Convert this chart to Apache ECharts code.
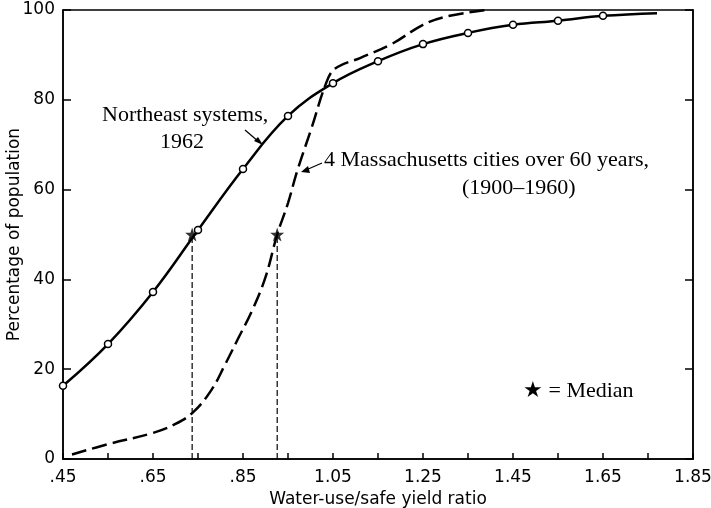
<!DOCTYPE html>
<html>
<head>
<meta charset="utf-8">
<script src="https://cdn.jsdelivr.net/npm/echarts@6/dist/echarts.min.js"></script>
<style>html,body{margin:0;padding:0;background:#fff;}#c{width:711px;height:508px;}</style>
</head>
<body>
<div id="c"></div>
<script>
// Northeast systems, 1962 (solid with circles); last point is the line end without marker
var neX = [0.45, 0.55, 0.65, 0.75, 0.85, 0.95, 1.05, 1.15, 1.25, 1.35, 1.45, 1.55, 1.65, 1.77];
var neY = [16.3, 25.6, 37.2, 51.0, 64.6, 76.4, 83.7, 88.6, 92.4, 94.9, 96.7, 97.6, 98.7, 99.3];
// 4 Massachusetts cities over 60 years (dashed)
var maX = [0.47, 0.55, 0.65, 0.70, 0.74, 0.78, 0.81, 0.84, 0.87, 0.90, 0.926, 0.95, 0.97, 1.00, 1.04, 1.06, 1.11, 1.18, 1.25, 1.30, 1.39];
var maY = [1.0, 3.3, 5.8, 7.8, 10.5, 15.4, 21.0, 27.0, 33.0, 40.5, 50.0, 57.0, 64.0, 73.0, 85.0, 87.3, 89.3, 92.4, 96.7, 98.5, 100];
// Medians
var medianX = [0.737, 0.926];
var medianY = [50, 50];
var xTickLabels = ['.45', '.65', '.85', '1.05', '1.25', '1.45', '1.65', '1.85'];
var yTickLabels = ['0', '20', '40', '60', '80', '100'];

var STAR = 'path://M50,0 L61.8,35.1 L98.1,35.1 L68.8,56.9 L79.4,91.9 L50,70.5 L20.6,91.9 L31.2,56.9 L1.9,35.1 L38.2,35.1 Z';

var neData = neX.map(function (x, i) {
  var d = { value: [x, neY[i]] };
  if (i === neX.length - 1) d.symbol = 'none';
  return d;
});
var maData = maX.map(function (x, i) { return [x, maY[i]]; });

var series = [
  {
    type: 'line', data: neData, smooth: 0.4,
    symbol: 'circle', symbolSize: 7, showAllSymbol: true,
    lineStyle: { color: '#000', width: 2.5 },
    itemStyle: { color: '#fff', borderColor: '#000', borderWidth: 1.5 },
    z: 3, animation: false
  },
  {
    type: 'line', data: maData, smooth: 0.4,
    symbol: 'none',
    lineStyle: { color: '#000', width: 2.5, type: [15, 6] },
    z: 2, animation: false
  }
];
medianX.forEach(function (x, i) {
  series.push({
    type: 'line', data: [[x, 0], [x, medianY[i]]], symbol: 'none',
    lineStyle: { color: '#000', width: 1.2, type: [6, 3] }, z: 1, animation: false
  });
});
series.push({
  type: 'scatter', data: medianX.map(function (x, i) { return [x, medianY[i]]; }),
  symbol: STAR, symbolSize: 14, itemStyle: { color: '#000' }, z: 5, animation: false
});

var chart = echarts.init(document.getElementById('c'), null, { renderer: 'canvas' });
var sans = 'DejaVu Sans, Liberation Sans, sans-serif';
var serif = 'Liberation Serif, Times New Roman, serif';
chart.setOption({
  backgroundColor: '#fff',
  animation: false,
  grid: {
    left: 63, right: 18, top: 10, bottom: 49, containLabel: false, outerBoundsMode: 'none',
    show: true, borderColor: '#000', borderWidth: 1.5, backgroundColor: 'transparent'
  },
  xAxis: {
    type: 'value', min: 0.45, max: 1.85, interval: 0.1,
    name: 'Water-use/safe yield ratio', nameLocation: 'middle', nameGap: 32, nameMoveOverlap: false,
    nameTextStyle: { fontFamily: sans, fontSize: 17, color: '#000' },
    axisLine: { lineStyle: { color: '#000', width: 1.5 } },
    axisTick: { inside: true, length: 6, lineStyle: { color: '#000', width: 1.5 } },
    splitLine: { show: false },
    axisLabel: {
      fontFamily: sans, fontSize: 17, color: '#000', margin: 10,
      formatter: function (v) {
        var k = Math.round((v - 0.45) * 10);
        if (k % 2 !== 0) return '';
        return xTickLabels[k / 2] || '';
      }
    }
  },
  yAxis: [
    {
      type: 'value', min: 0, max: 100, interval: 20, position: 'left',
      name: 'Percentage of population', nameLocation: 'middle', nameGap: 40, nameMoveOverlap: false,
      nameTextStyle: { fontFamily: sans, fontSize: 17, color: '#000' },
      axisLine: { show: true, lineStyle: { color: '#000', width: 1.5 } },
      axisTick: { show: true, inside: true, length: 8, lineStyle: { color: '#000', width: 1.5 } },
      splitLine: { show: false },
      axisLabel: {
        fontFamily: sans, fontSize: 17, color: '#000', margin: 8,
        formatter: function (v) { return yTickLabels[Math.round(v / 20)]; }
      }
    },
    {
      type: 'value', min: 0, max: 100, interval: 20, position: 'right',
      axisLine: { show: true, lineStyle: { color: '#000', width: 1.5 } },
      axisTick: { show: true, inside: true, length: 8, lineStyle: { color: '#000', width: 1.5 } },
      splitLine: { show: false },
      axisLabel: { show: false }
    }
  ],
  series: series,
  graphic: [
    { type: 'text', left: 102, top: 104, style: { text: 'Northeast systems,', font: '22px ' + serif, fill: '#000' } },
    { type: 'text', left: 160, top: 131, style: { text: '1962', font: '22px ' + serif, fill: '#000' } },
    { type: 'line', shape: { x1: 245, y1: 130, x2: 259, y2: 142 }, style: { stroke: '#000', lineWidth: 1.2 } },
    { type: 'polygon', shape: { points: [[263, 145], [254, 141], [258, 137]] }, style: { fill: '#000' } },
    { type: 'text', left: 324, top: 149, style: { text: '4 Massachusetts cities over 60 years,', font: '22px ' + serif, fill: '#000' } },
    { type: 'text', left: 462, top: 177, style: { text: '(1900\u20131960)', font: '22px ' + serif, fill: '#000' } },
    { type: 'line', shape: { x1: 322, y1: 163, x2: 306, y2: 170 }, style: { stroke: '#000', lineWidth: 1.2 } },
    { type: 'polygon', shape: { points: [[301, 172], [308, 166], [310, 173]] }, style: { fill: '#000' } },
    { type: 'text', left: 523, top: 380, style: { text: '\u2605 = Median', font: '22px ' + serif, fill: '#000' } }
  ]
});
</script>
</body>
</html>
